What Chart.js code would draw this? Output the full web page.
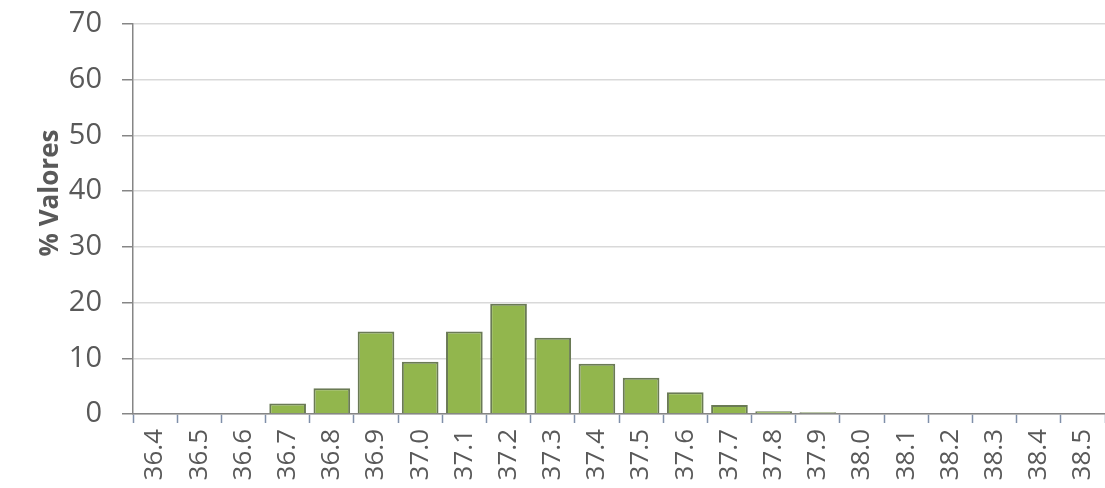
<!DOCTYPE html>
<html>
<head>
<meta charset="utf-8">
<script src="https://cdn.jsdelivr.net/npm/chart.js@4"></script>
<style>
  html, body { margin: 0; padding: 0; background: #fff; }
  #wrap { width: 1105px; height: 488px; }
</style>
</head>
<body>
<div id="wrap"><canvas id="chart" width="1105" height="488"></canvas></div>
<script>
// temperaturas (categorias do eixo x)
const temperaturas = ["36.4","36.5","36.6","36.7","36.8","36.9","37.0","37.1","37.2","37.3","37.4",
                      "37.5","37.6","37.7","37.8","37.9","38.0","38.1","38.2","38.3","38.4","38.5"];

// % de valores por temperatura
const percentagens = [0, 0, 0, 1.9, 4.6, 14.8, 9.4, 14.8, 19.8, 13.7, 9.0,
                      6.5, 3.9, 1.6, 0.5, 0.3, 0, 0, 0, 0, 0, 0];

const yMin = 0;
const yMax = 70;
const yStep = 10;
const tituloY = "% Valores";

// desenha o titulo do eixo y na posicao do original
const tituloPlugin = {
    id: "tituloY",
    afterDraw(chart) {
        const ctx = chart.ctx;
        ctx.save();
        ctx.translate(51, 193);
        ctx.rotate(-Math.PI / 2);
        ctx.font = "bold 26px 'Open Sans'";
        ctx.fillStyle = "#595959";
        ctx.textAlign = "center";
        ctx.textBaseline = "middle";
        ctx.fillText(tituloY, 0, 0);
        ctx.restore();
    }
};

const ctx = document.getElementById("chart").getContext("2d");
const chart = new Chart(ctx, {
    type: "bar",
    data: {
        labels: temperaturas,
        datasets: [{
            label: tituloY,
            data: percentagens,
            backgroundColor: "#92b64d",
            borderColor: "#6a7a55",
            borderWidth: 2,
            categoryPercentage: 1,
            barPercentage: 0.83
        }]
    },
    options: {
        responsive: false,
        animation: false,
        layout: { padding: { top: 24, right: 0, left: 0, bottom: 0 } },
        plugins: {
            legend: { display: false },
            tooltip: { enabled: false }
        },
        scales: {
            x: {
                grid: {
                    drawOnChartArea: false,
                    tickLength: 9,
                    tickColor: "#7f8fa9",
                    tickWidth: 1.5
                },
                border: { color: "#868686", width: 1.5 },
                ticks: {
                    minRotation: 90,
                    maxRotation: 90,
                    padding: 6,
                    color: "#595959",
                    font: { family: "'Open Sans'", size: 26 }
                },
                afterFit(scale) {
                    scale.height = 74;
                    scale.paddingLeft = 0;
                    scale.paddingRight = 0;
                }
            },
            y: {
                min: yMin,
                max: yMax,
                grid: {
                    color: "#d9d9d9",
                    lineWidth: 1.5,
                    tickLength: 11,
                    tickColor: "#868686"
                },
                border: { color: "#868686", width: 1.5 },
                ticks: {
                    stepSize: yStep,
                    padding: 20,
                    color: "#595959",
                    font: { family: "'Open Sans'", size: 29 }
                },
                afterFit(scale) {
                    scale.width = 133;
                    scale.paddingTop = 0;
                    scale.paddingBottom = 0;
                }
            }
        }
    },
    plugins: [tituloPlugin]
});
</script>
</body>
</html>
